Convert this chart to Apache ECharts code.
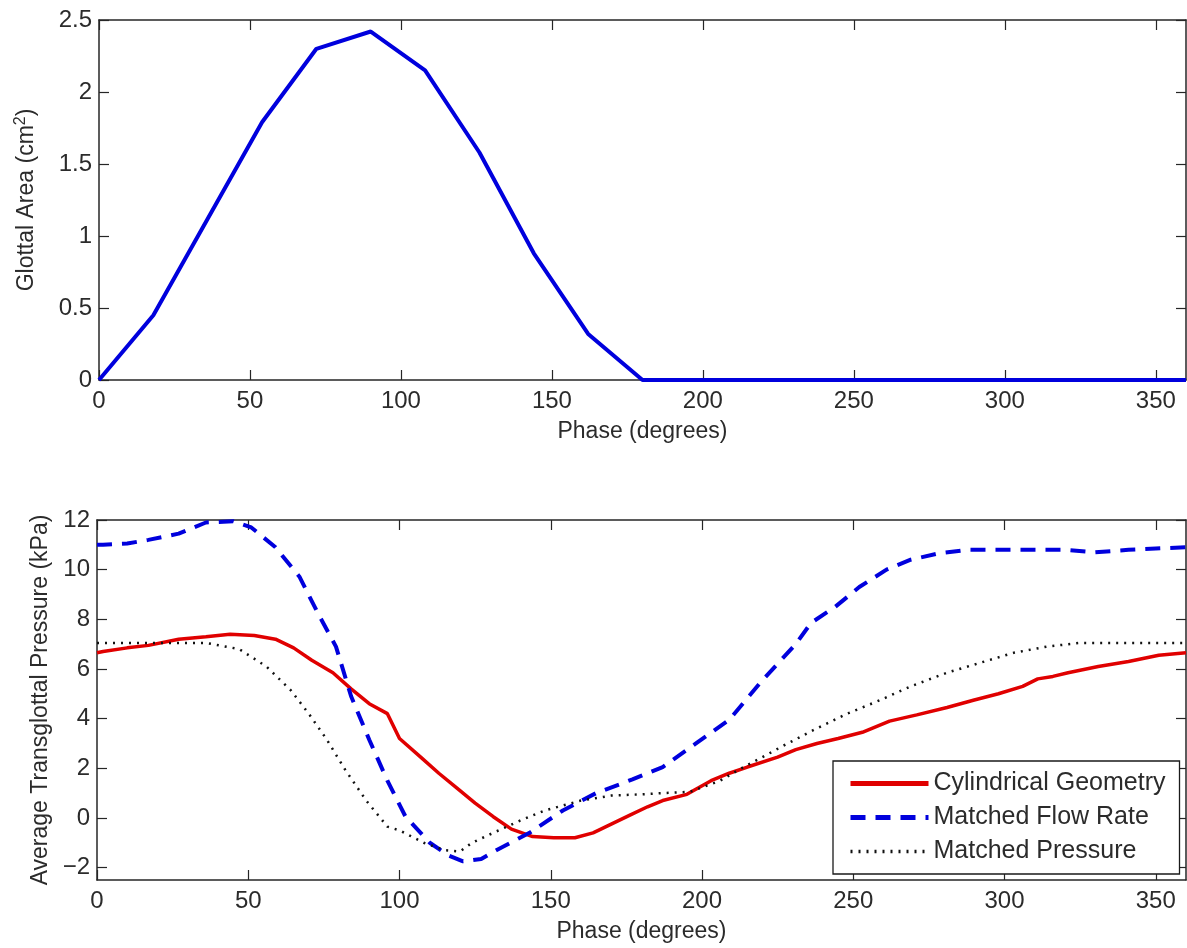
<!DOCTYPE html>
<html>
<head>
<meta charset="utf-8">
<script src="https://cdn.jsdelivr.net/npm/echarts@6/dist/echarts.min.js"></script>
<style>
  html, body { margin: 0; padding: 0; background: #fff; }
  #chart { width: 1187px; height: 948px; }
</style>
</head>
<body>
<div id="chart"></div>
<script>
// top panel: glottal area vs phase
const areaPhase = [0, 18, 36, 54, 72, 90, 108, 126, 144, 162, 180, 360]
const areaValues = [0, 0.45, 1.12, 1.79, 2.30, 2.42, 2.15, 1.58, 0.88, 0.32, 0, 0]

// bottom panel: transglottal pressure, one x array per curve
const cylPhase = [0, 2, 10, 17, 27, 36, 44, 52, 59, 65, 71, 78, 84, 90, 96, 100, 107, 113, 119, 125, 131, 137, 144, 151, 158, 164, 170, 176, 182, 187, 195, 203, 209, 215, 225, 231, 238, 245, 253, 262, 271, 281, 290, 298, 306, 311, 316, 321, 331, 341, 351, 360]
const cylValues = [6.65, 6.7, 6.85, 6.95, 7.2, 7.3, 7.4, 7.35, 7.2, 6.85, 6.35, 5.85, 5.2, 4.6, 4.2, 3.2, 2.45, 1.8, 1.2, 0.6, 0.05, -0.45, -0.75, -0.8, -0.8, -0.6, -0.25, 0.1, 0.45, 0.7, 0.95, 1.5, 1.8, 2.05, 2.45, 2.75, 3.0, 3.2, 3.45, 3.9, 4.15, 4.45, 4.75, 5.0, 5.3, 5.6, 5.7, 5.85, 6.1, 6.3, 6.55, 6.65]

const flowPhase = [0, 2, 10, 17, 27, 36, 45, 51, 59, 67, 73, 79, 84, 90, 96, 102, 110, 116, 121, 127, 132, 143, 154, 165, 177, 187, 198, 209, 220, 231, 236, 244, 252, 261, 269, 278, 288, 300, 310, 320, 330, 341, 350, 360]
const flowValues = [11.0, 11.0, 11.05, 11.2, 11.45, 11.9, 11.95, 11.7, 10.9, 9.7, 8.25, 6.9, 4.9, 3.15, 1.5, 0.05, -1.0, -1.5, -1.75, -1.65, -1.3, -0.6, 0.3, 1.0, 1.55, 2.05, 3.0, 3.95, 5.55, 7.0, 7.85, 8.5, 9.3, 10.0, 10.4, 10.65, 10.8, 10.8, 10.8, 10.8, 10.7, 10.8, 10.85, 10.9]

const presPhase = [0, 2, 23, 36, 47, 56, 64, 70, 76, 82, 89, 96, 100, 108, 115, 120, 124, 131, 140, 148, 160, 170, 180, 187, 196, 206, 213, 220, 226, 237, 248, 259, 269, 281, 292, 303, 314, 325, 340, 360]
const presValues = [7.05, 7.05, 7.05, 7.05, 6.8, 6.1, 5.15, 4.2, 3.15, 1.95, 0.7, -0.35, -0.5, -1.0, -1.3, -1.35, -1.0, -0.6, -0.1, 0.3, 0.7, 0.9, 0.95, 1.0, 1.05, 1.5, 2.0, 2.45, 2.85, 3.55, 4.2, 4.75, 5.3, 5.85, 6.25, 6.65, 6.9, 7.05, 7.05, 7.05]

const phaseTicks = [0, 50, 100, 150, 200, 250, 300, 350]
const areaTicks = [0, 0.5, 1, 1.5, 2, 2.5]
const pressureTicks = [-2, 0, 2, 4, 6, 8, 10, 12]

const seriesNames = ['Cylindrical Geometry', 'Matched Flow Rate', 'Matched Pressure']

const pairs = (xs, ys) => xs.map((x, i) => [x, ys[i]])

const FONT = 'Liberation Sans, Arial, sans-serif'
const TXT = '#2b2b2b'
const LINE = '#262626'

// x axis with MATLAB-like inward ticks; mirror=true gives the top copy without labels
function phaseAxis(gridIndex, mirror) {
  return {
    type: 'value', gridIndex, min: 0, max: 360,
    position: mirror ? 'top' : 'bottom',
    name: mirror ? '' : 'Phase (degrees)',
    nameLocation: 'middle', nameGap: 40,
    nameTextStyle: { fontFamily: FONT, fontSize: 23, color: TXT },
    axisLine: { show: true, onZero: false, lineStyle: { color: LINE, width: 1.5 } },
    axisTick: { show: true, inside: true, length: 10, customValues: phaseTicks, lineStyle: { color: LINE, width: 1.2 } },
    axisLabel: { show: !mirror, customValues: phaseTicks, margin: 9, fontFamily: FONT, fontSize: 24, color: TXT },
    splitLine: { show: false }
  }
}

function valAxis(gridIndex, min, max, ticks, name, gap, mirror, rich) {
  return {
    type: 'value', gridIndex, min, max,
    position: mirror ? 'right' : 'left',
    name: mirror ? '' : name,
    nameLocation: 'middle', nameGap: gap,
    nameTextStyle: { fontFamily: FONT, fontSize: 23, color: TXT, rich: rich || {} },
    axisLine: { show: true, onZero: false, lineStyle: { color: LINE, width: 1.5 } },
    axisTick: { show: true, inside: true, length: 10, customValues: ticks, lineStyle: { color: LINE, width: 1.2 } },
    axisLabel: {
      show: !mirror, customValues: ticks, margin: 7, fontFamily: FONT, fontSize: 24, color: TXT,
      formatter: v => String(v).replace('-', '\u2212')
    },
    splitLine: { show: false }
  }
}

const chart = echarts.init(document.getElementById('chart'))
chart.setOption({
  animation: false,
  backgroundColor: '#fff',
  grid: [
    { left: 99, right: 1, top: 20, height: 360 },
    { left: 97, right: 1, top: 520, height: 360 }
  ],
  xAxis: [phaseAxis(0, false), phaseAxis(0, true), phaseAxis(1, false), phaseAxis(1, true)],
  yAxis: [
    valAxis(0, 0, 2.5, areaTicks, 'Glottal Area (cm{sup|2})', 58, false,
      { sup: { fontFamily: FONT, fontSize: 16, color: TXT, verticalAlign: 'top', padding: [0, 0, 12, 0] } }),
    valAxis(0, 0, 2.5, areaTicks, '', 0, true),
    valAxis(1, -2.5, 12, pressureTicks, 'Average Transglottal Pressure (kPa)', 45, false),
    valAxis(1, -2.5, 12, pressureTicks, '', 0, true)
  ],
  legend: {
    data: [
      { name: seriesNames[0], lineStyle: { width: 5 } },
      { name: seriesNames[1], lineStyle: { width: 5 } },
      { name: seriesNames[2], lineStyle: { width: 3.5 } }
    ],
    orient: 'vertical',
    left: 833, top: 761,
    padding: [10, 14, 10, 15],
    itemWidth: 78, itemHeight: 14, itemGap: 9,
    itemStyle: { opacity: 0 },
    backgroundColor: '#fff',
    borderColor: '#1a1a1a', borderWidth: 1.3,
    textStyle: { fontFamily: FONT, fontSize: 25, color: TXT }
  },
  series: [
    {
      type: 'line', xAxisIndex: 0, yAxisIndex: 0, symbol: 'none',
      data: pairs(areaPhase, areaValues),
      lineStyle: { color: '#0000dd', width: 4 }
    },
    {
      name: seriesNames[0], type: 'line', xAxisIndex: 2, yAxisIndex: 2, symbol: 'none',
      data: pairs(cylPhase, cylValues),
      itemStyle: { color: '#e00000' },
      lineStyle: { color: '#e00000', width: 3.5 }
    },
    {
      name: seriesNames[1], type: 'line', xAxisIndex: 2, yAxisIndex: 2, symbol: 'none',
      data: pairs(flowPhase, flowValues),
      itemStyle: { color: '#0000dd' },
      lineStyle: { color: '#0000dd', width: 4, type: [15, 10] }
    },
    {
      name: seriesNames[2], type: 'line', xAxisIndex: 2, yAxisIndex: 2, symbol: 'none',
      data: pairs(presPhase, presValues),
      itemStyle: { color: '#111' },
      lineStyle: { color: '#111', width: 2.5, type: [2, 6] }
    }
  ]
})
</script>
</body>
</html>
